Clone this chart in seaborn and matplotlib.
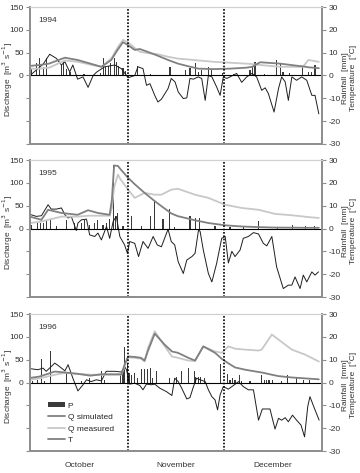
import numpy as np
import pandas as pd
import seaborn as sns
import matplotlib.pyplot as plt
from matplotlib.patches import Patch
from matplotlib.lines import Line2D
from matplotlib.ticker import FixedLocator, FuncFormatter

# ---- data (day 0 = 1 October) ----
years = ["1994", "1995", "1996"]
months = ["October", "November", "December"]
month_mid = [15.5, 46, 76.5]
month_start = [31, 61]

# discharge [m3/s]
q_days_1994 = [0, 3, 6, 11, 15, 19, 22.5, 25.6, 27.5, 29.3, 31, 33, 34.6, 37, 40, 43.5, 46.6,
               50, 53, 57.8, 63, 68, 70, 72.5, 78.8, 84.6, 86, 87.7, 91]
qsim_1994 = [21, 23, 26, 39, 34, 26, 19, 34, 55, 73, 66, 56, 58, 52, 44, 34, 26,
             20, 15, 14, 15, 17, 19, 29, 26, 21, 20, 18, 16]
qmeas_1994 = [15, 15, 17, 33, 30, 24, 19, 37, 60, 78, 72, 60, 52, 49, 47, 41, 37,
              35, 33, 30, 28, 26, 25, 23, 19, 19, 19, 34, 30]

q_days_1995 = [0, 3.6, 5.7, 9.9, 15, 18.3, 21.4, 25.1, 25.8, 26.5, 27.7, 28.5, 30.9, 33, 36.1,
               39.3, 41.4, 44.5, 46.6, 52, 56.2, 61.5, 66.7, 72, 77.2, 82.5, 87.7, 91]
qsim_1995 = [26, 19, 41, 34, 30, 40, 34, 30, 63, 138, 137, 130, 111, 97, 78,
             60, 49, 33, 27, 18, 12, 7, 4.4, 3, 2, 1.8, 1.5, 1.5]
qmeas_1995 = [12, 15, 19, 26, 26, 28, 28, 28, 45, 90, 118, 108, 85, 67, 78,
              74, 74, 85, 87, 74, 67, 52, 45, 41, 32, 29, 25, 23]

q_days_1996 = [0, 3, 7.8, 11, 15, 19, 22.5, 28.8, 29.8, 30.9, 33, 35, 36.1, 37.2, 39.3, 42.4,
               44.7, 46.6, 49.9, 52, 54.6, 58.3, 60.4, 62.5, 64.6, 67.8, 72, 73, 76.2, 78.3,
               82.5, 86.7, 91]
qsim_1996 = [10, 13, 24, 22, 19, 15, 18, 18, 39, 57, 56, 54, 48, 70, 107, 83,
             68, 65, 54, 48, 79, 65, 52, 42, 33, 28, 23, 22, 17, 14,
             11, 9, 7]
qmeas_1996 = [6, 9, 17, 21, 19, 17, 17, 17, 35, 55, 54, 52, 46, 76, 112, 80,
              57, 54, 48, 47, 79, 68, 65, 79, 74, 72, 70, 72, 105, 94,
              72, 61, 46]

# temperature [degC]
t_days_1994 = [0, 2, 4.1, 6.2, 8.3, 9.9, 11, 12.5, 13.5, 15, 16.7, 18.3, 19.9, 21, 23.5, 26.7,
               28.8, 30.4, 30.9, 33, 34, 35.6, 36.7, 37.8, 39.3, 40.3, 41.4, 43.5, 44.5, 45.7,
               46.7, 48.3, 49.4, 50.4, 51.5, 53, 54.1, 55.2, 56.2, 57.3, 58.8, 59.9, 60.9, 62,
               63.6, 65.1, 66.7, 68.3, 69.9, 71.4, 73, 74.1, 75.1, 76.9, 78.3, 79.3, 80.4, 81.4,
               82.5, 84, 85.6, 87.2, 88.8, 89.8, 91]
t_1994 = [0, 2.4, 4.9, 9.3, 7.5, 4.6, 6, 1.6, 4.6, -1.6, -0.6, -5.2, 0, 1.5, 3.8, 4.6,
          3, 0, -1, 0, 3.8, 3, -4.3, -3.6, -8.7, -11.6, -10.4, -5.7, -1.3, -2.8,
          -7.2, -10.1, -9.8, -1.3, -1.6, -0.6, -1.3, -10.9, 0, -0.6, -5, -8.7, -0.6, -1.3,
          -0.2, 0.9, -3, -0.6, 0.9, -0.6, -6.5, -5.4, -7.9, -16, -5.7, -0.6, -2.8, -10.9,
          -0.6, -2.1, -0.6, -2.1, -8.7, -8.7, -16.8]

t_days_1995 = [0.4, 2, 3.6, 5.7, 6.7, 8.3, 9.9, 11, 12, 13, 14.6, 15.1, 16.2, 17.8, 18.8, 20.4,
               21.4, 22.5, 24.1, 25.1, 26.2, 27.2, 28.3, 29.8, 30.7, 31.4, 33, 34.2, 35.6, 37.2,
               38.8, 40.1, 41.4, 43.5, 44.5, 45.6, 46.7, 48.3, 49.4, 51, 52, 53.1, 53.6, 54.6,
               56.2, 57.3, 58.8, 60.4, 61.5, 62.5, 63.6, 64.6, 66.2, 67.2, 68.8, 70.4, 72, 73.5,
               74.6, 76.2, 77.7, 79.8, 81.4, 82.5, 83.5, 85.1, 86.1, 87.2, 88.8, 89.8, 90.9]
t_1995 = [6, 5.3, 5.6, 10.4, 8.5, 8.5, 9, 6, 4.6, 5.3, -0.9, 2.4, 3.8, 4.1, -2.8, -3.5,
          -2, -5, 0.9, -4.3, 3.1, 5.3, -3.5, -7.2, -10.9, -5.7, -6.5, -12.3, -5.7, -8.7,
          -3.5, -7.2, -8, -0.3, -5.7, -7.2, -14.6, -19.7, -13.8, -12.3, -10.9, -0.6, -1.3, -9.4,
          -19.7, -23.4, -15.3, -4.3, -3.5, -15.1, -10, -12.3, -9.4, -4.3, -3.5, -1.8, -2.4, -6.5,
          -7.6, -3.5, -16.8, -26.3, -24.8, -24.8, -21.2, -26.3, -20.4, -23.4, -19, -20.4, -19]

t_days_1996 = [0.4, 2.5, 4.1, 5.1, 6.7, 7.8, 9.3, 11, 12, 13.5, 15.1, 16.7, 17.8, 19.3, 20.9,
               22.5, 24, 26.7, 28.8, 29.8, 30.4, 31.4, 33, 34.6, 35.6, 36.7, 38.2, 39.3, 40.9,
               43, 44.7, 45.6, 46.7, 47.8, 49.4, 50.4, 51.5, 52.5, 53.6, 55.2, 56.2, 57.3, 58.3,
               59.1, 59.9, 60.9, 62.5, 64.1, 65.7, 67.2, 68.8, 70.4, 72, 73.2, 75.6, 77.2, 78.3,
               79.3, 80.4, 81.4, 82.7, 84, 85.4, 86.5, 87.5, 88.2, 89.8, 91.1]
t_1996 = [6, 5.6, 6.3, 4.9, 7, 8.5, 7, 5.1, 7.8, 1.9, -3.7, -1, 1.2, 0.4, 1.2,
          0.7, 4.9, 4.9, 4.6, 7, 5.6, -0.7, -0.3, -1.3, -3.2, -0.7, -1, -0.7, -2.5,
          -4, -5.7, 1.9, 0.4, -2.5, -7.2, -6.6, -1.8, 1.9, 1.2, 0.4, -3.2, -6.2, -7.6,
          -12, -5.4, -1.8, -2.9, -1.3, 0.4, -1.8, -3.2, -3.2, -16.5, -11.6, -11.6, -20.4, -15.7,
          -16.5, -15.4, -17.2, -14.3, -16.5, -18.7, -23.8, -10.6, -6.2, -12, -16.5]

# rainfall [mm]
p_days_1994 = [0.5, 2.1, 3.1, 4.2, 5.3, 9.9, 10.5, 11.5, 12.6, 17, 22.3, 23.1, 23.9, 24.6, 25.5,
               26.5, 27.3, 28, 29.3, 30, 34, 38, 44.1, 48.9, 50.4, 52.2, 53, 53.9, 56.2, 57.1,
               60.6, 64, 69.3, 70.1, 70.9, 74, 77.7, 78.8, 79.7, 81.8, 85.8, 87.7, 88.8, 89.8]
p_1994 = [3.1, 5.3, 7.8, 3.8, 7.5, 4.6, 5.7, 3, 1.6, 0.5, 1, 7.5, 3.8, 4.3, 5.3,
          7.5, 6, 4, 3.1, 1.8, 4.3, 0.5, 3.8, 2.4, 3.1, 5.3, 1.6, 2.4, 3.8, 2.4,
          0.9, 0.5, 2.4, 3.8, 6, 0.5, 6.8, 5.3, 1.6, 0.9, 3.8, 1.6, 1.6, 4.6]

p_days_1995 = [0.4, 2.3, 3.4, 4.2, 5.1, 6.5, 8.3, 11.4, 14.1, 16.2, 17.2, 18.8, 20.4, 21.4, 23,
               24, 25.1, 26.2, 26.9, 27.5, 29.3, 32.1, 35.1, 38, 39.1, 41.9, 44, 45.5, 50.4,
               52.2, 53.3, 58.3, 63, 67.2, 72, 78, 82.8, 86.9, 89.5]
p_1995 = [1.6, 2.6, 2.4, 2.4, 3.8, 3.8, 0.9, 3.8, 2.4, 2.4, 3.8, 1.6, 2.4, 3.8, 1.6,
          2.6, 4.1, 27.6, 5.3, 6.8, 0.9, 5.3, 1.2, 5.6, 12.6, 4.1, 8.5, 0.6, 5.6,
          4.6, 4.6, 1.2, 0.5, 0.6, 3.5, 0.5, 1.5, 0.9, 0.9]

p_days_1996 = [0.9, 2.3, 3.6, 4.6, 6.5, 11.4, 16.2, 18.8, 22.5, 23.5, 28.6, 29.3, 29.8, 30.6,
               31.2, 31.9, 33, 34, 35.1, 36.1, 37, 38, 38.7, 39.8, 44, 46.1, 46.2, 47.8, 49.9,
               51.8, 52.2, 53, 53.6, 54.9, 59.9, 62.3, 63, 63.8, 64.6, 65.9, 66.7, 69.3, 73,
               73.8, 74.6, 75.3, 76.3, 79.3, 81.2, 84, 86.1, 88.2]
p_1996 = [0.5, 1.2, 10.4, 0.5, 14, 4.1, 0.5, 1.9, 4.9, 1.2, 3.4, 4.9, 15.4, 8.5,
          4.1, 3.4, 4.1, 1.9, 6, 6, 6, 6.3, 1.9, 4.9, 1.9, 0.6, 2.6, 5.1, 6.3,
          5.1, 2.6, 2.6, 2.2, 1.9, 8.1, 3.7, 1.2, 1.9, 1.2, 3.4, 0.5, 0.5, 3.1,
          1.2, 1.2, 1.2, 1.2, 0.5, 3.1, 1.9, 1.2, 1.2]

q_days = [q_days_1994, q_days_1995, q_days_1996]
q_sim = [qsim_1994, qsim_1995, qsim_1996]
q_meas = [qmeas_1994, qmeas_1995, qmeas_1996]
t_days = [t_days_1994, t_days_1995, t_days_1996]
t_vals = [t_1994, t_1995, t_1996]
p_days = [p_days_1994, p_days_1995, p_days_1996]
p_vals = [p_1994, p_1995, p_1996]

# ---- style ----
sns.set_style("white")
plt.rcParams['font.family'] = ['Liberation Sans', 'DejaVu Sans']
plt.rcParams['font.size'] = 6

C_SIM = "#808080"
C_MEAS = "#c8c8c8"
C_T = "#1e1e1e"
C_P = "#3a3a3a"
C_SPINE = "#8f8f8f"
C_TXT = "#333333"

fig = plt.figure(figsize=(3.6, 4.73), dpi=100)
W, H = 360, 473
ax_left, ax_right = 30, 322
panels_px = [(7, 144), (160, 297), (314, 451)]

for i, (top, bot) in enumerate(panels_px):
    ax = fig.add_axes([ax_left / W, 1 - bot / H, (ax_right - ax_left) / W, (bot - top) / H])
    ax2 = ax.twinx()

    df_q = pd.DataFrame({"day": q_days[i], "sim": q_sim[i], "meas": q_meas[i]})
    df_t = pd.DataFrame({"day": t_days[i], "T": t_vals[i]})

    # rainfall + temperature on right axis
    ax2.bar(p_days[i], p_vals[i], width=0.35, color=C_P, linewidth=0, zorder=2)
    sns.lineplot(data=df_t, x="day", y="T", ax=ax2, color=C_T, linewidth=0.7,
                 estimator=None, sort=False, zorder=3)
    # discharge on left axis
    sns.lineplot(data=df_q, x="day", y="meas", ax=ax, color=C_MEAS, linewidth=1.3, estimator=None)
    sns.lineplot(data=df_q, x="day", y="sim", ax=ax, color=C_SIM, linewidth=1.3, estimator=None)

    # discharge axis drawn above the right one
    ax.set_zorder(ax2.get_zorder() + 1)
    ax.patch.set_visible(False)

    ax.set_xlim(0, 92)
    ax.set_ylim(-150, 150)
    ax2.set_ylim(-30, 30)
    ax.axhline(0, color="black", linewidth=0.8, zorder=1)
    for d in month_start:
        ax.axvline(d, color="black", linestyle=(0, (1, 1)), linewidth=1.2)

    ax.yaxis.set_major_locator(FixedLocator([-150, -100, -50, 0, 50, 100, 150]))
    ax.yaxis.set_major_formatter(FuncFormatter(lambda v, p: f"{int(v)}" if v >= 0 else ""))
    ax2.yaxis.set_major_locator(FixedLocator([-30, -20, -10, 0, 10, 20, 30]))
    ax2.yaxis.set_major_formatter(FuncFormatter(lambda v, p: f"{int(v)}"))
    ax.tick_params(axis="y", direction="out", length=3, width=0.8, color=C_SPINE,
                   labelsize=6, labelcolor=C_TXT, pad=1.5, left=True)
    ax2.tick_params(axis="y", direction="out", length=3, width=0.8, color=C_SPINE,
                    labelsize=6, labelcolor=C_TXT, pad=1.5, right=True)

    ax.set_xlabel("")
    ax.set_ylabel("")
    ax2.set_xlabel("")
    ax2.set_ylabel("")

    if i == 2:
        ax.set_xticks(month_mid)
        ax.set_xticklabels(months)
        ax.tick_params(axis="x", length=0, labelsize=6, labelcolor=C_TXT, pad=8)
    else:
        ax.set_xticks([])

    for a in (ax, ax2):
        for side in ("left", "bottom", "right"):
            a.spines[side].set_color(C_SPINE)
            a.spines[side].set_linewidth(1.4)
        a.spines["top"].set_color("#d0d0d0")
        a.spines["top"].set_linewidth(0.8)

    ax.text(0.03, 0.9, years[i], transform=ax.transAxes, fontsize=6, color=C_TXT,
            ha="left", va="center")
    ax.text(-0.075, 0.47, "Discharge  [m$^3$ s$^{-1}$]", transform=ax.transAxes,
            rotation=90, ha="center", va="center", fontsize=6, color=C_TXT)
    ax.text(1.08, 0.48, "Rainfall  [mm]", transform=ax.transAxes,
            rotation=90, ha="center", va="center", fontsize=6, color=C_TXT)
    ax.text(1.108, 0.48, "Temperature  [°C]", transform=ax.transAxes,
            rotation=90, ha="center", va="center", fontsize=6, color=C_TXT)

    if i == 2:
        handles = [Patch(facecolor=C_P, edgecolor="none"),
                   Line2D([], [], color=C_SIM, linewidth=1.3),
                   Line2D([], [], color=C_MEAS, linewidth=1.3),
                   Line2D([], [], color=C_SIM, linewidth=1.3)]
        ax.legend(handles, ["P", "Q simulated", "Q measured", "T"],
                  loc="upper left", bbox_to_anchor=(0.05, 0.38), frameon=False,
                  fontsize=6, handlelength=2.0, handleheight=0.5, labelspacing=0.5,
                  handletextpad=0.35, borderaxespad=0)

fig.savefig("out.png", dpi=100)
